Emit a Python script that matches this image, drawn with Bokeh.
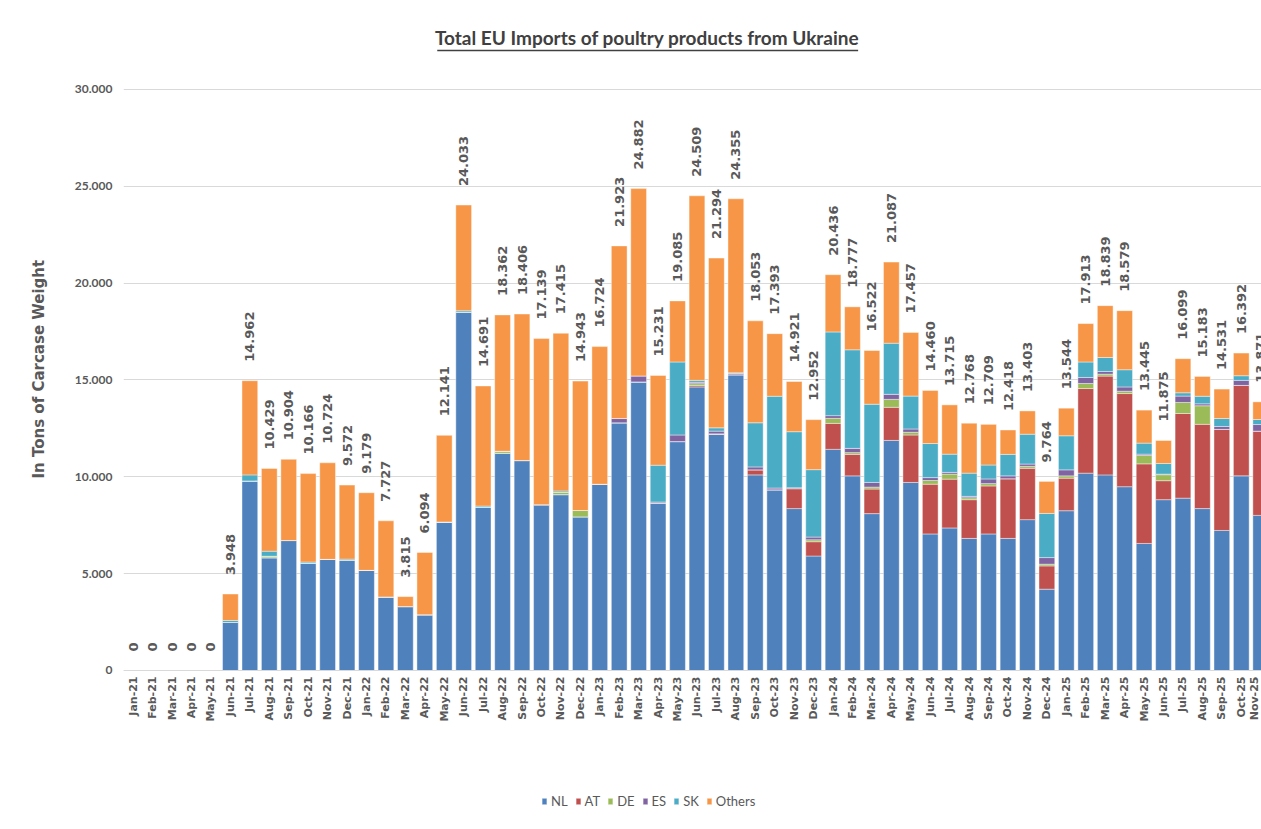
import math
from bokeh.plotting import figure
from bokeh.models import (ColumnDataSource, FixedTicker, Legend, LegendItem,
                          Label, Range1d, Title)
from bokeh.core.properties import value
from bokeh.embed import file_html
from bokeh.resources import INLINE

# ---------------- data (tons of carcase weight) ----------------
months = ["Jan-21", "Feb-21", "Mar-21", "Apr-21", "May-21", "Jun-21", "Jul-21", "Aug-21",
          "Sep-21", "Oct-21", "Nov-21", "Dec-21", "Jan-22", "Feb-22", "Mar-22", "Apr-22",
          "May-22", "Jun-22", "Jul-22", "Aug-22", "Sep-22", "Oct-22", "Nov-22", "Dec-22",
          "Jan-23", "Feb-23", "Mar-23", "Apr-23", "May-23", "Jun-23", "Jul-23", "Aug-23",
          "Sep-23", "Oct-23", "Nov-23", "Dec-23", "Jan-24", "Feb-24", "Mar-24", "Apr-24",
          "May-24", "Jun-24", "Jul-24", "Aug-24", "Sep-24", "Oct-24", "Nov-24", "Dec-24",
          "Jan-25", "Feb-25", "Mar-25", "Apr-25", "May-25", "Jun-25", "Jul-25", "Aug-25",
          "Sep-25", "Oct-25", "Nov-25"]

NL = [0, 0, 0, 0, 0, 2480, 9790, 5820, 6710, 5530, 5740, 5680, 5170, 3800, 3300, 2880,
      7670, 18490, 8420, 11220, 10840, 8560, 9080, 7930, 9620, 12790, 14900, 8650, 11820,
      14640, 12190, 15270, 10100, 9330, 8360, 5910, 11420, 10050, 8100, 11880, 9710, 7050,
      7360, 6820, 7050, 6820, 7790, 4200, 8250, 10190, 10100, 9490, 6560, 8820, 8900, 8360,
      7230, 10050, 8010]
AT = [0, 0, 0, 0, 0, 0, 0, 0, 0, 0, 0, 0, 0, 0, 0, 0,
      0, 0, 0, 0, 0, 0, 0, 0, 0, 0, 0, 0, 0,
      70, 30, 0, 260, 0, 1030, 740, 1340, 1110, 1270, 1710, 2450, 2570,
      2520, 2000, 2480, 3080, 2650, 1200, 1680, 4370, 5100, 4810, 4110, 980, 4370, 4350,
      5220, 4670, 4350]
DE = [0, 0, 0, 0, 0, 0, 0, 80, 0, 0, 0, 0, 0, 0, 0, 0,
      0, 0, 0, 100, 0, 0, 120, 330, 0, 0, 0, 0, 0,
      100, 0, 0, 0, 0, 0, 100, 260, 90, 100, 410, 140, 190,
      260, 100, 120, 0, 100, 90, 120, 260, 100, 120, 430, 310, 570, 960,
      0, 0, 0]
ES = [0, 0, 0, 0, 0, 0, 0, 0, 0, 0, 0, 0, 0, 0, 0, 0,
      0, 0, 0, 0, 0, 0, 0, 0, 0, 220, 310, 50, 340,
      70, 140, 70, 150, 90, 50, 140, 140, 220, 240, 260, 170, 150,
      90, 70, 240, 150, 120, 340, 310, 310, 140, 220, 70, 30, 330, 100,
      150, 260, 340]
SK = [0, 0, 0, 0, 0, 100, 310, 260, 0, 70, 0, 70, 0, 0, 0, 0,
      0, 80, 70, 0, 0, 0, 70, 0, 0, 0, 0, 1900, 3770,
      100, 170, 30, 2280, 4740, 2890, 3480, 4320, 5090, 4040, 2640, 1700, 1760,
      940, 1200, 720, 1110, 1540, 2280, 1760, 800, 720, 890, 570, 550, 170, 390,
      410, 240, 260]
Others = [0, 0, 0, 0, 0, 1368, 4862, 4269, 4194, 4566, 4984, 3822, 4009, 3927, 515, 3214,
          4471, 5463, 6201, 7042, 7566, 8579, 8145, 6683, 7104, 8913, 9672, 4631, 3155,
          9529, 8764, 8985, 5263, 3233, 2591, 2582, 2956, 2217, 2772, 4187, 3287, 2740,
          2545, 2578, 2099, 1258, 1203, 1654, 1424, 1983, 2679, 3049, 1705, 1185, 1759, 1023,
          1521, 1172, 911]
totals = [0, 0, 0, 0, 0, 3948, 14962, 10429, 10904, 10166, 10724, 9572, 9179, 7727, 3815,
          6094, 12141, 24033, 14691, 18362, 18406, 17139, 17415, 14943, 16724, 21923, 24882,
          15231, 19085, 24509, 21294, 24355, 18053, 17393, 14921, 12952, 20436, 18777, 16522,
          21087, 17457, 14460, 13715, 12768, 12709, 12418, 13403, 9764, 13544, 17913, 18839,
          18579, 13445, 11875, 16099, 15183, 14531, 16392, 13871]

series = ["NL", "AT", "DE", "ES", "SK", "Others"]
colors = ["#4F81BD", "#C0504D", "#9BBB59", "#8064A2", "#4BACC6", "#F79646"]
y_ticks = [0, 5000, 10000, 15000, 20000, 25000, 30000]
y_tick_labels = ["0", "5.000", "10.000", "15.000", "20.000", "25.000", "30.000"]

title_text = "Total EU Imports of poultry products from Ukraine"
y_title = "In Tons of Carcase Weight"

# ---------------- figure ----------------
xs = list(range(len(months)))
src = ColumnDataSource(dict(x=xs, NL=NL, AT=AT, DE=DE, ES=ES, SK=SK, Others=Others))

# the plotting frame spans the full height; the month axis is pinned at y = 0
p = figure(width=1261, height=829, output_backend="svg", toolbar_location=None,
           x_range=Range1d(-0.5, 58.04), y_range=Range1d(-8210, 34595),
           min_border_left=123, min_border_right=0, min_border_top=0,
           min_border_bottom=0)
p.outline_line_color = None
p.background_fill_color = "white"
p.border_fill_color = "white"

renderers = p.vbar_stack(series, x="x", width=0.81, color=colors, source=src,
                         line_color="white", line_width=0.6, line_alpha=0.7)

GRAY = "#595959"
# y axis
p.yaxis.ticker = FixedTicker(ticks=y_ticks)
p.yaxis.major_label_overrides = {t: l for t, l in zip(y_ticks, y_tick_labels)}
p.yaxis.axis_line_color = None
p.yaxis.major_tick_line_color = None
p.yaxis.minor_tick_line_color = None
p.yaxis.major_tick_out = 0
p.yaxis.major_label_standoff = 11
p.yaxis.major_label_text_font = "Lato"
p.yaxis.major_label_text_font_style = "bold"
p.yaxis.major_label_text_font_size = "12px"
p.yaxis.major_label_text_color = GRAY
p.ygrid.ticker = FixedTicker(ticks=y_ticks)
p.ygrid.grid_line_color = "#d9d9d9"
p.xgrid.grid_line_color = None

# y axis title, in its own panel left of the tick labels
p.add_layout(Title(text=y_title, align="left", offset=351, vertical_align="middle",
                   standoff=45, text_font="DejaVu Sans", text_font_style="bold",
                   text_font_size="15px", text_color=GRAY), "left")

# x axis (month labels) fixed at the zero line
p.xaxis.fixed_location = 0
p.xaxis.ticker = FixedTicker(ticks=xs)
p.xaxis.major_label_overrides = {i: m for i, m in zip(xs, months)}
p.xaxis.major_label_orientation = math.pi / 2
p.xaxis.axis_line_color = "#d9d9d9"
p.xaxis.major_tick_line_color = None
p.xaxis.minor_tick_line_color = None
p.xaxis.major_tick_out = 0
p.xaxis.major_label_standoff = 6
p.xaxis.major_label_text_font = "DejaVu Sans"
p.xaxis.major_label_text_font_style = "bold"
p.xaxis.major_label_text_font_size = "11px"
p.xaxis.major_label_text_color = GRAY

# data labels
lbls = ["{:,}".format(t).replace(",", ".") for t in totals]
lsrc = ColumnDataSource(dict(x=xs, y=totals, t=lbls))
p.text(x="x", y="y", text="t", source=lsrc, angle=math.pi / 2,
       text_align="left", text_baseline="middle", y_offset=-19,
       text_font=value("DejaVu Sans"), text_font_style="bold",
       text_font_size=value("13px"), text_color=GRAY)

# title with underline (placed in the empty area above the 30.000 line)
p.add_layout(Label(x=26.44, y=32684, text=title_text, text_align="center",
                   text_baseline="middle", text_font="Lato",
                   text_font_style="bold", text_font_size="19px",
                   text_color="#404040"))
p.segment(x0=[15.64], y0=[32013], x1=[37.29], y1=[32013],
          line_color="#404040", line_width=1.5)

# legend (inside the frame, below the month labels)
items = [LegendItem(label=n, renderers=[r]) for n, r in zip(series, renderers)]
legend = Legend(items=items, orientation="horizontal", location=(418, 20),
                glyph_width=6, glyph_height=8, label_height=16, label_width=0,
                label_text_font="Lato", label_text_font_size="13px",
                label_text_color=GRAY, label_standoff=4, spacing=7,
                padding=0, margin=0, border_line_color=None,
                background_fill_alpha=0)
p.add_layout(legend)

open("out.html", "w").write(file_html(p, INLINE))
